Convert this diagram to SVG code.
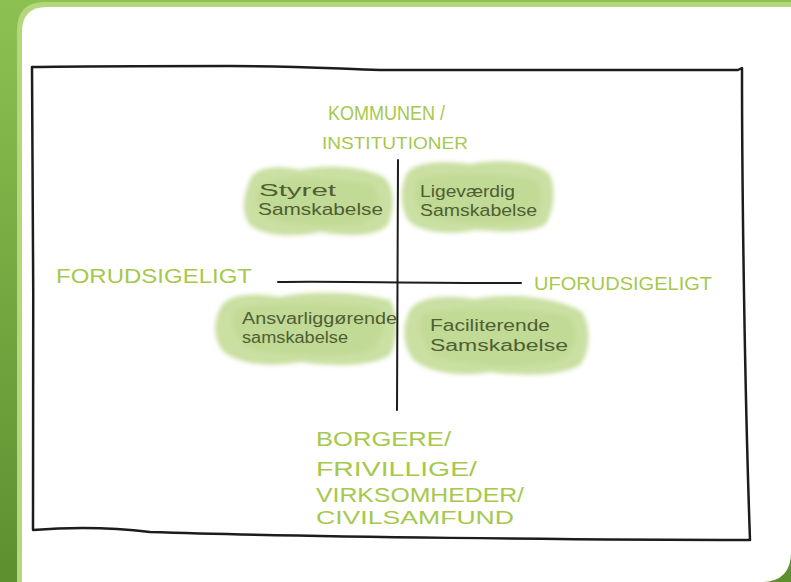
<svg xmlns="http://www.w3.org/2000/svg" width="791" height="582" viewBox="0 0 791 582">
<defs>
<linearGradient id="bg" x1="0" y1="0" x2="0" y2="1">
<stop offset="0" stop-color="#8cc152"/>
<stop offset="1" stop-color="#5e8f2f"/>
</linearGradient>
<filter id="soft" x="-10%" y="-10%" width="120%" height="120%">
<feGaussianBlur stdDeviation="2"/>
</filter>
<style>
.lbl{font-family:"Liberation Sans",Arial,sans-serif;fill:#a6c84c;}
.blobtxt{font-family:"Liberation Sans",Arial,sans-serif;fill:#4f5e33;font-size:16px;}
.blob{fill:#cadfa2;filter:url(#soft);}
.blob2{fill:#b8d486;opacity:0.45;filter:url(#soft);}
.ink{fill:none;stroke:#1c1c1c;stroke-linecap:round;stroke-linejoin:round;}
</style>
</defs>
<rect x="0" y="0" width="791" height="582" fill="url(#bg)"/>
<path d="M17,582 L17,30 Q17,2 45,2 L791,2 L791,550 Q791,582 759,582 Z" fill="#b5d77c"/>
<path d="M22,582 L22,32 Q22,7 47,7 L791,7 L791,552 Q791,582 761,582 Z" fill="#ffffff"/>

<g id="frame">
<path class="ink" stroke-width="2.5" d="M32,67 C90,66 160,66 230,66 C300,66 340,69 380,70 C470,70 600,70 738,70 L742,68 C742,200 745,400 750,540 C600,540 300,537 150,532 C100,526 60,528 33,530 C34,400 33,200 32,67 Z"/>
</g>

<g id="q-styret">
<path class="blob" d="M250,180 C255,166 280,165 300,170 C330,163 370,168 385,178 C396,190 394,210 388,225 C375,238 345,236 320,232 C295,238 262,236 250,225 C240,212 244,194 250,180 Z"/>
<path class="blob2" d="M262,185 C280,176 330,178 370,184 C384,196 380,218 360,224 C330,228 290,226 268,218 C256,208 254,194 262,185 Z"/>
<text class="blobtxt" x="259" y="196" textLength="77" lengthAdjust="spacingAndGlyphs">Styret</text>
<text class="blobtxt" x="258" y="215" textLength="125" lengthAdjust="spacingAndGlyphs">Samskabelse</text>
</g>

<g id="q-ligevaerdig">
<path class="blob" d="M406,175 C412,162 440,160 470,164 C500,158 540,162 550,175 C556,190 554,210 546,224 C530,234 500,232 475,230 C450,236 418,232 408,220 C400,206 400,188 406,175 Z"/>
<path class="blob2" d="M418,180 C440,172 500,172 535,180 C546,195 542,215 525,222 C495,226 450,224 425,216 C414,206 412,190 418,180 Z"/>
<text class="blobtxt" x="420" y="197" textLength="95" lengthAdjust="spacingAndGlyphs">Ligeværdig</text>
<text class="blobtxt" x="420" y="216" textLength="117" lengthAdjust="spacingAndGlyphs">Samskabelse</text>
</g>

<g id="q-ansvarliggorende">
<path class="blob" d="M222,305 C230,294 255,292 280,297 C310,290 360,292 390,300 C399,315 398,340 390,355 C370,368 330,366 300,362 C270,368 235,364 222,350 C212,336 214,318 222,305 Z"/>
<path class="blob2" d="M235,310 C260,302 330,302 375,308 C388,322 384,345 365,352 C330,358 280,356 248,348 C234,338 230,320 235,310 Z"/>
<text class="blobtxt" x="242" y="324" textLength="155" lengthAdjust="spacingAndGlyphs">Ansvarliggørende</text>
<text class="blobtxt" x="242" y="343" textLength="106" lengthAdjust="spacingAndGlyphs">samskabelse</text>
</g>

<g id="q-faciliterende">
<path class="blob" d="M410,310 C418,297 445,294 475,299 C510,292 560,298 582,312 C592,328 590,352 580,365 C560,377 520,376 490,372 C460,378 425,372 412,358 C402,342 402,325 410,310 Z"/>
<path class="blob2" d="M422,315 C450,306 520,306 568,316 C580,332 576,355 555,362 C520,368 470,366 436,357 C422,346 418,328 422,315 Z"/>
<text class="blobtxt" x="430" y="331" textLength="120" lengthAdjust="spacingAndGlyphs">Faciliterende</text>
<text class="blobtxt" x="430" y="351" textLength="138" lengthAdjust="spacingAndGlyphs">Samskabelse</text>
</g>

<g id="axes">
<path class="ink" stroke-width="2" d="M398,160 C397,220 398,300 397,410"/>
<path class="ink" stroke-width="2" d="M278,282 C330,281 400,283 521,283"/>
</g>

<g id="label-top">
<text class="lbl" x="328" y="120" font-size="20" textLength="117" lengthAdjust="spacingAndGlyphs">KOMMUNEN /</text>
<text class="lbl" x="322" y="149" font-size="17" textLength="146" lengthAdjust="spacingAndGlyphs">INSTITUTIONER</text>
</g>
<g id="label-left">
<text class="lbl" x="56" y="283" font-size="21" textLength="196" lengthAdjust="spacingAndGlyphs">FORUDSIGELIGT</text>
</g>
<g id="label-right">
<text class="lbl" x="534" y="290" font-size="18" textLength="178" lengthAdjust="spacingAndGlyphs">UFORUDSIGELIGT</text>
</g>
<g id="label-bottom">
<text class="lbl" x="316" y="446" font-size="21" textLength="135" lengthAdjust="spacingAndGlyphs">BORGERE/</text>
<text class="lbl" x="316" y="476" font-size="21" textLength="161" lengthAdjust="spacingAndGlyphs">FRIVILLIGE/</text>
<text class="lbl" x="316" y="502" font-size="20" textLength="208" lengthAdjust="spacingAndGlyphs">VIRKSOMHEDER/</text>
<text class="lbl" x="316" y="524" font-size="18" textLength="198" lengthAdjust="spacingAndGlyphs">CIVILSAMFUND</text>
</g>
</svg>
